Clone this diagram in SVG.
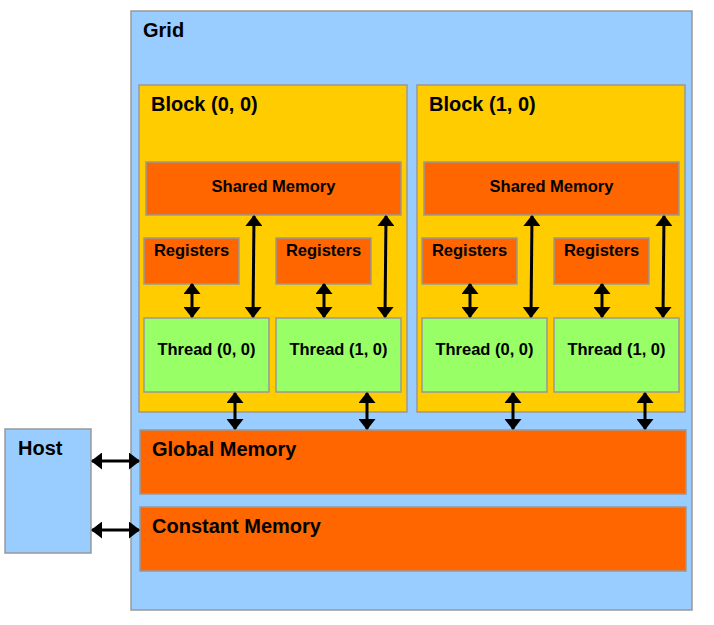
<svg xmlns="http://www.w3.org/2000/svg" width="714" height="625" viewBox="0 0 714 625">
<style>
rect{stroke:#999;stroke-width:1.5}
.blue{fill:#99CCFF}.yel{fill:#FFCC00}.org{fill:#FF6600}.grn{fill:#99FF66}
text{font-family:"Liberation Sans",Arial,sans-serif;font-weight:bold;fill:#000}
.big{font-size:20px}.sm{font-size:16.5px}
.c{text-anchor:middle}
.con line{stroke:#000;stroke-width:3;marker-start:url(#ah);marker-end:url(#ah)}
</style>
<defs>
<marker id="ah" viewBox="0 0 11 17" refX="10" refY="8.5" markerWidth="11" markerHeight="17" markerUnits="userSpaceOnUse" orient="auto-start-reverse">
<path d="M0,0 L11,8.5 L0,17 Z" fill="#000"/>
</marker>
</defs>
<rect x="0" y="0" width="714" height="625" fill="#fff" style="stroke:none"/>
<g id="grid"><rect class="blue" x="131" y="11" width="561" height="599"/><text class="big" x="143" y="37">Grid</text></g>
<g id="host"><rect class="blue" x="5" y="429" width="86" height="124"/><text class="big" x="18" y="455">Host</text></g>
<g id="block00"><rect class="yel" x="139" y="85" width="268" height="327"/><text class="big" x="151" y="111">Block (0, 0)</text></g>
<g id="block10"><rect class="yel" x="417" y="85" width="268" height="327"/><text class="big" x="429" y="111">Block (1, 0)</text></g>
<g id="shared00"><rect class="org" x="146" y="162" width="255" height="53"/><text class="sm c" x="273.5" y="192">Shared Memory</text></g>
<g id="shared10"><rect class="org" x="424" y="162" width="255" height="53"/><text class="sm c" x="551.5" y="192">Shared Memory</text></g>
<g id="reg00"><rect class="org" x="144" y="238" width="95" height="46"/><text class="sm c" x="191.5" y="256">Registers</text></g>
<g id="reg01"><rect class="org" x="276" y="238" width="95" height="46"/><text class="sm c" x="323.5" y="256">Registers</text></g>
<g id="reg10"><rect class="org" x="422" y="238" width="95" height="46"/><text class="sm c" x="469.5" y="256">Registers</text></g>
<g id="reg11"><rect class="org" x="554" y="238" width="95" height="46"/><text class="sm c" x="601.5" y="256">Registers</text></g>
<g id="th00"><rect class="grn" x="144" y="318" width="125" height="74"/><text class="sm c" x="206.5" y="355">Thread (0, 0)</text></g>
<g id="th01"><rect class="grn" x="276" y="318" width="125" height="74"/><text class="sm c" x="338.5" y="355">Thread (1, 0)</text></g>
<g id="th10"><rect class="grn" x="422" y="318" width="125" height="74"/><text class="sm c" x="484.5" y="355">Thread (0, 0)</text></g>
<g id="th11"><rect class="grn" x="554" y="318" width="125" height="74"/><text class="sm c" x="616.5" y="355">Thread (1, 0)</text></g>
<g id="global"><rect class="org" x="140" y="430" width="546" height="64"/><text class="big" x="152" y="456">Global Memory</text></g>
<g id="constant"><rect class="org" x="140" y="507" width="546" height="64"/><text class="big" x="152" y="533">Constant Memory</text></g>
<g id="connectors" class="con">
<line x1="192" y1="284" x2="192" y2="317"/>
<line x1="324" y1="284" x2="324" y2="317"/>
<line x1="470" y1="284" x2="470" y2="317"/>
<line x1="602" y1="284" x2="602" y2="317"/>
<line x1="254" y1="216" x2="253" y2="317"/>
<line x1="386" y1="216" x2="385" y2="317"/>
<line x1="532" y1="216" x2="531" y2="317"/>
<line x1="664" y1="216" x2="663" y2="317"/>
<line x1="235" y1="393" x2="235" y2="429"/>
<line x1="367" y1="393" x2="367" y2="429"/>
<line x1="513" y1="393" x2="513" y2="429"/>
<line x1="645" y1="393" x2="645" y2="429"/>
<line x1="92" y1="461" x2="139" y2="461"/>
<line x1="92" y1="530" x2="139" y2="530"/>
</g>
</svg>
